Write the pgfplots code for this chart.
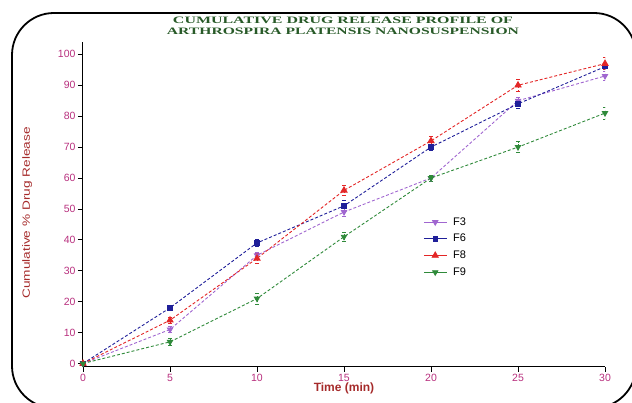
\documentclass[border=0pt]{standalone}
\usepackage{fontspec}
\setmainfont{Liberation Sans}
\newfontfamily\titlefont{Liberation Serif}
\usepackage{pgfplots}
\pgfplotsset{compat=1.18}
\usepackage{graphicx}
\definecolor{tickcol}{HTML}{B8307E}
\definecolor{labred}{HTML}{A52A2A}
\definecolor{titgreen}{HTML}{285A28}
\definecolor{cF3}{HTML}{A066D0}
\definecolor{cF6}{HTML}{1F1F99}
\definecolor{cF8}{HTML}{E32626}
\definecolor{cF9}{HTML}{2F8A3A}
\begin{document}
\begin{tikzpicture}[x=1pt,y=1pt]
\useasboundingbox (0,0) rectangle (632,403);
\draw[line width=1.8pt, rounded corners=42pt] (12,390) rectangle (636,-5);
\node[text=titgreen, anchor=center, inner sep=0pt] at (343,382.5) {\resizebox{340pt}{6.5pt}{\titlefont\bfseries CUMULATIVE DRUG RELEASE PROFILE OF}};
\node[text=titgreen, anchor=center, inner sep=0pt] at (343,372) {\resizebox{352pt}{6.5pt}{\titlefont\bfseries ARTHROSPIRA PLATENSIS NANOSUSPENSION}};
\begin{axis}[
  at={(83pt,36.4pt)}, anchor=south west,
  scale only axis, width=522pt, height=324.6pt,
  xmin=0, xmax=30, ymin=-1, ymax=104,
  axis lines=left, axis line style={-, line width=1pt},
  xtick={0,5,...,30}, ytick={0,10,...,100},
  tick align=outside, major tick length=5pt,
  tick style={black, line width=0.8pt},
  /pgf/number format/assume math mode=true,
  ticklabel style={font=\fontsize{10.5}{11}\selectfont, text=tickcol},
  yticklabel style={xshift=1pt},
  xticklabel style={yshift=1pt},
  xlabel={Time (min)},
  xlabel style={at={(axis description cs:0.5,-0.068)}, anchor=center, font=\fontsize{12}{13}\selectfont\bfseries, text=labred},
  ylabel={\scalebox{1.3}[1]{Cumulative \% Drug Release}},
  ylabel style={at={(axis description cs:-0.107,0.473)}, anchor=center, rotate=0, font=\fontsize{10.5}{11}\selectfont, text=labred},
  legend style={at={(axis description cs:0.646,0.472)}, anchor=north west, draw=none, fill=none, font=\fontsize{11}{12}\selectfont, row sep=3.5pt,
    nodes={inner xsep=6pt}},
  legend cell align=left,
  legend image code/.code={\draw[solid, mark repeat=2,mark phase=2] plot coordinates {(0cm,0cm)(0.4cm,0cm)(0.8cm,0cm)};},
  every axis plot/.append style={densely dashed, line width=0.9pt},
  error bars/error mark options={rotate=90, mark size=2pt, solid, line width=0.8pt},
]
\addplot[cF3, mark=triangle*, mark size=3pt, mark options={solid, rotate=180, fill=cF3}, error bars/.cd, y dir=both, y explicit]
  coordinates {(0,0) +- (0,0) (5,11) +- (0,1) (10,35) +- (0,1) (15,49) +- (0,1.5) (20,60) +- (0,1) (25,85) +- (0,1) (30,93) +- (0,1.5)};
\addlegendentry{F3}
\addplot[cF6, mark=square*, mark size=2.2pt, mark options={solid, fill=cF6}, error bars/.cd, y dir=both, y explicit]
  coordinates {(0,0) +- (0,0) (5,18) +- (0,0.8) (10,39) +- (0,1) (15,51) +- (0,1.8) (20,70) +- (0,1) (25,84) +- (0,1.5) (30,96) +- (0,1)};
\addlegendentry{F6}
\addplot[cF8, mark=triangle*, mark size=3.5pt, mark options={solid, fill=cF8}, error bars/.cd, y dir=both, y explicit]
  coordinates {(0,0) +- (0,0) (5,14) +- (0,1) (10,34) +- (0,1.5) (15,56) +- (0,1.5) (20,72) +- (0,1.5) (25,90) +- (0,2) (30,97) +- (0,2)};
\addlegendentry{F8}
\addplot[cF9, mark=triangle*, mark size=3pt, mark options={solid, rotate=180, fill=cF9}, error bars/.cd, y dir=both, y explicit]
  coordinates {(0,0) +- (0,0) (5,7) +- (0,1) (10,21) +- (0,1.8) (15,41) +- (0,1.5) (20,60) +- (0,1) (25,70) +- (0,1.8) (30,81) +- (0,2)};
\addlegendentry{F9}
\end{axis}
\end{tikzpicture}
\end{document}
